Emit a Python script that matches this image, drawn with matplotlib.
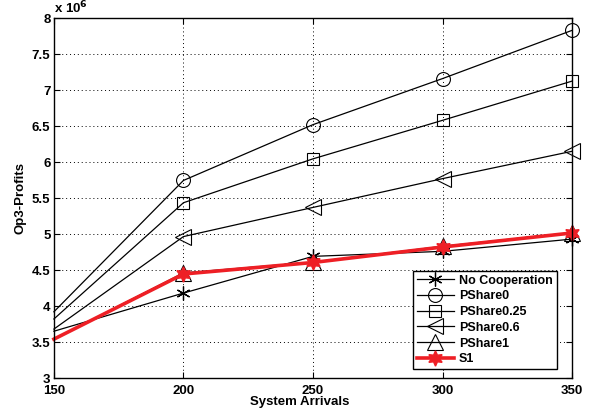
import numpy as np
import matplotlib.pyplot as plt
from matplotlib.ticker import FuncFormatter

plt.rcParams['font.family'] = ['Liberation Sans', 'DejaVu Sans']
plt.rcParams['font.weight'] = 'bold'
narrow = ['Liberation Sans Narrow', 'Liberation Sans', 'DejaVu Sans']

arrivals = [150, 200, 250, 300, 350]

# profits in units of 1e6
no_coop = [3.65, 4.18, 4.69, 4.76, 4.93]
pshare0 = [3.92, 5.745, 6.52, 7.16, 7.83]
pshare025 = [3.82, 5.435, 6.045, 6.58, 7.125]
pshare06 = [3.68, 4.965, 5.37, 5.77, 6.15]
pshare1 = [3.54, 4.46, 4.61, 4.83, 5.02]
s1 = [3.54, 4.445, 4.605, 4.82, 5.015]

fig = plt.figure(figsize=(5.99, 4.12), dpi=100)
ax = fig.add_axes([0.090, 0.0825, 0.865, 0.8735])

lw = 0.9
every = [1, 2, 3, 4]
common = dict(color='black', lw=lw, markevery=every, clip_on=False)
ax.plot(arrivals, no_coop, marker=(6, 2, 0), ms=10, mew=0.9,
        label='No Cooperation', **common)
ax.plot(arrivals, pshare0, marker='o', ms=10, mfc='none', mew=0.8,
        label='PShare0', **common)
ax.plot(arrivals, pshare025, marker='s', ms=9, mfc='none', mew=0.8,
        label='PShare0.25', **common)
ax.plot(arrivals, pshare06, marker='<', ms=11, mfc='none', mew=0.8,
        label='PShare0.6', **common)
ax.plot(arrivals, pshare1, marker='^', ms=11, mfc='none', mew=0.8,
        label='PShare1', **common)
ax.plot(arrivals, s1, color='#ee1f25', lw=2.6, marker=(6, 1, 0), ms=11,
        mfc='#ee1f25', mec='#ee1f25', mew=1.0, markevery=every,
        clip_on=False, label='S1')

ax.set_xlim(150, 350)
ax.set_ylim(3, 8)
ax.set_xticks([150, 200, 250, 300, 350])
ax.set_yticks(np.arange(3, 8.01, 0.5))
ax.yaxis.set_major_formatter(FuncFormatter(lambda v, p: '%g' % v))

ax.grid(True, color='black', linestyle=(0, (1, 3)), linewidth=0.7)
ax.tick_params(direction='in', top=True, right=True, length=4, width=0.8,
               labelsize=9.5)
ax.tick_params(axis='x', pad=5)
ax.tick_params(axis='y', pad=2.5)
for sp in ax.spines.values():
    sp.set_linewidth(1.0)

ax.set_xlabel('System Arrivals', fontsize=9.5, fontweight='bold',
              family=narrow)
ax.xaxis.set_label_coords(0.475, -0.05)
ax.set_ylabel('Op3-Profits', fontsize=9.5, fontweight='bold',
              family=narrow, labelpad=4)
ax.text(0.0, 1.005, r'x 10$^{\mathbf{6}}$', transform=ax.transAxes,
        fontsize=9.5, fontweight='bold', va='bottom', ha='left')

leg = ax.legend(loc='lower right', bbox_to_anchor=(0.97, 0.025),
                prop=dict(family=narrow, weight='bold', size=9),
                fancybox=False, framealpha=1, edgecolor='black',
                handlelength=3.0, borderpad=0.3, labelspacing=0.3,
                handletextpad=0.4, borderaxespad=0)
leg.get_frame().set_linewidth(1.0)

fig.savefig('out.png', dpi=100)
